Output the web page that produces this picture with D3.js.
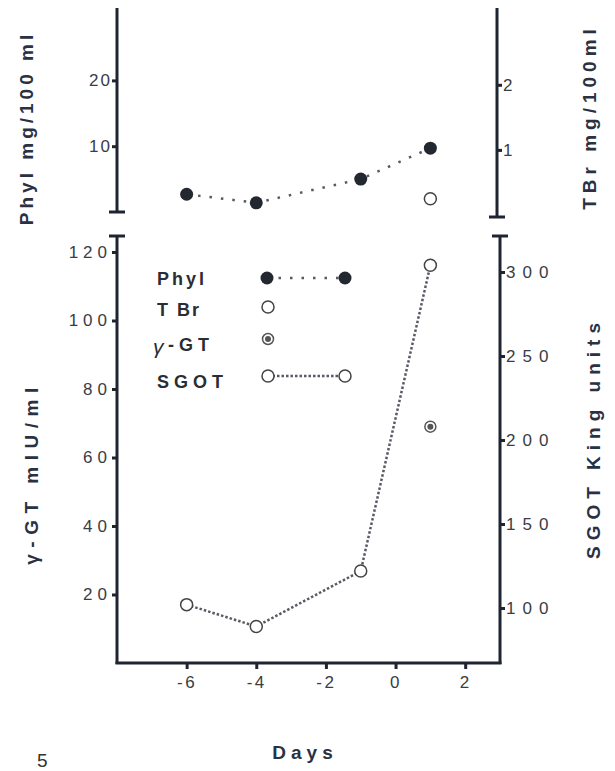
<!DOCTYPE html>
<html>
<head>
<meta charset="utf-8">
<script src="https://cdn.jsdelivr.net/npm/d3@7"></script>
<style>
  body { margin: 0; background: #fff; }
  svg { font-family: "Liberation Sans", Arial, sans-serif; }
</style>
</head>
<body>
<svg id="chart" width="615" height="771"></svg>
<script>
// days of measurement
const phylDays = [-6, -4, -1, 1];
const phylValues = [2.7, 1.4, 5.0, 9.7];
const tbrDays = [1];
const tbrValues = [0.25];
const gtDays = [1];
const gtValues = [69];
const sgotDays = [-6, -4, -1, 1];
const sgotValues = [102, 89, 122, 304];

const dayTicks = [-6, -4, -2, 0, 2];
const phylTicks = [10, 20];
const tbrTicks = [1, 2];
const gtTicks = [20, 40, 60, 80, 100, 120];
const sgotTicks = [100, 150, 200, 250, 300];

const ink = "#1e2430";
const dotInk = "#555a63";
const plain = (d) => String(d); // hyphen minus, no decimals

const svg = d3.select("#chart");

const left = 117, right = 500;
const x = d3.scaleLinear().domain([-8, 3]).range([left, right]);

// top panel
const yPhyl = d3.scaleLinear().domain([0, 31]).range([212, 8]);
const yTBr = d3.scaleLinear().domain([0, 3.18]).range([215, 8]);
// bottom panel
const yGT = d3.scaleLinear().domain([0, 120]).range([663, 252]);
const ySGOT = d3.scaleLinear().domain([100, 300]).range([608, 272]);

function styleAxis(g, spacing) {
  g.select(".domain").remove();
  g.selectAll(".tick line").attr("stroke", ink).attr("stroke-width", 3);
  g.selectAll(".tick text")
    .attr("fill", "#3a3d44")
    .style("font-size", "17px")
    .style("letter-spacing", spacing || "3px");
}

function vline(xp, y0, y1) {
  svg.append("line")
    .attr("x1", xp).attr("x2", xp).attr("y1", y0).attr("y2", y1)
    .attr("stroke", ink).attr("stroke-width", 3);
}
function cap(xp, yp) {
  svg.append("line")
    .attr("x1", xp - 8).attr("x2", xp + 8).attr("y1", yp).attr("y2", yp)
    .attr("stroke", ink).attr("stroke-width", 3);
}

// axis lines with break caps
vline(left, 8, 212); cap(left, 212);
vline(right - 3, 8, 217); cap(right - 3, 217);
vline(left, 236, 664); cap(left, 236);
vline(right, 236, 664); cap(right, 236);
svg.append("line")
  .attr("x1", left - 1.5).attr("x2", right + 1.5).attr("y1", 663).attr("y2", 663)
  .attr("stroke", ink).attr("stroke-width", 3);

svg.append("g").attr("transform", `translate(${left},0)`)
  .call(d3.axisLeft(yPhyl).tickValues(phylTicks).tickFormat(plain).tickSize(5).tickPadding(0))
  .call(styleAxis, "2px");
svg.append("g").attr("transform", `translate(${right - 3},0)`)
  .call(d3.axisRight(yTBr).tickValues(tbrTicks).tickFormat(plain).tickSize(5).tickPadding(1))
  .call(styleAxis);
svg.append("g").attr("transform", `translate(${left},0)`)
  .call(d3.axisLeft(yGT).tickValues(gtTicks).tickFormat(plain).tickSize(5).tickPadding(0))
  .call(styleAxis, "5px");
svg.append("g").attr("transform", `translate(${right},0)`)
  .call(d3.axisRight(ySGOT).tickValues(sgotTicks).tickFormat(plain).tickSize(5).tickPadding(1))
  .call(styleAxis, "7px");
svg.append("g").attr("transform", "translate(0,663)")
  .call(d3.axisBottom(x).tickValues(dayTicks).tickFormat(plain).tickSize(6).tickPadding(7))
  .call(styleAxis, "2.5px");

// axis titles
function vTitle(text, xp, yp, spacing) {
  svg.append("text")
    .attr("transform", `translate(${xp},${yp}) rotate(-90)`)
    .attr("text-anchor", "middle")
    .attr("fill", "#2a3142")
    .style("font-size", "19px")
    .style("font-weight", "bold")
    .style("letter-spacing", spacing)
    .text(text);
}
vTitle("Phyl mg/100 ml", 33, 128, "4px");
vTitle("TBr mg/100ml", 596, 117, "5px");
vTitle("\u03b3-GT mIU/ml", 38, 473, "6.5px");
vTitle("SGOT King units", 600, 438, "6px");

svg.append("text")
  .attr("x", 305).attr("y", 759)
  .attr("text-anchor", "middle")
  .attr("fill", "#2a3142")
  .style("font-size", "19px").style("font-weight", "bold")
  .style("letter-spacing", "5px")
  .text("Days");
svg.append("text")
  .attr("x", 37).attr("y", 767)
  .attr("fill", "#333")
  .style("font-size", "19px")
  .text("5");

// series
const line = (xs, ys, yScale) => d3.line()
  .x((d, i) => x(xs[i]))
  .y((d) => yScale(d))(ys);

svg.append("path")
  .attr("d", line(phylDays, phylValues, yPhyl))
  .attr("fill", "none").attr("stroke", dotInk)
  .attr("stroke-width", 2.5).attr("stroke-dasharray", "2.5,9");
svg.append("path")
  .attr("d", line(sgotDays, sgotValues, ySGOT))
  .attr("fill", "none").attr("stroke", dotInk)
  .attr("stroke-width", 2.5).attr("stroke-dasharray", "2.5,2");

function filled(cx, cy) {
  svg.append("circle").attr("cx", cx).attr("cy", cy).attr("r", 6.5).attr("fill", "#23272f");
}
function open(cx, cy) {
  svg.append("circle").attr("cx", cx).attr("cy", cy).attr("r", 6)
    .attr("fill", "#fff").attr("stroke", "#444").attr("stroke-width", 1.5);
}
function dotted(cx, cy) {
  svg.append("circle").attr("cx", cx).attr("cy", cy).attr("r", 5.5)
    .attr("fill", "#fff").attr("stroke", "#555").attr("stroke-width", 1.5);
  svg.append("circle").attr("cx", cx).attr("cy", cy).attr("r", 3).attr("fill", "#555");
}

phylDays.forEach((d, i) => filled(x(d), yPhyl(phylValues[i])));
tbrDays.forEach((d, i) => open(x(d), yTBr(tbrValues[i])));
sgotDays.forEach((d, i) => open(x(d), ySGOT(sgotValues[i])));
gtDays.forEach((d, i) => dotted(x(d), yGT(gtValues[i])));

// legend
const legend = svg.append("g");
function legendText(t, xp, yp, spacing) {
  legend.append("text").attr("x", xp).attr("y", yp)
    .attr("fill", "#2a2d33")
    .style("font-size", "18px").style("font-weight", "bold")
    .style("letter-spacing", spacing)
    .text(t);
}
legendText("Phyl", 157, 285, "3px");
legendText("T Br", 157, 316, "2px");
legend.append("text").attr("x", 153).attr("y", 354)
  .attr("fill", "#2a2d33").style("font-size", "21px")
  .style("font-style", "italic")
  .text("\u03b3");
legendText("-GT", 168, 351, "5px");
legendText("SGOT", 157, 388, "5px");

legend.append("line").attr("x1", 267).attr("x2", 345).attr("y1", 278).attr("y2", 278)
  .attr("stroke", dotInk).attr("stroke-width", 2.5).attr("stroke-dasharray", "2.5,9");
filled(267, 278); filled(345, 278);
open(268, 307);
dotted(268, 339);
legend.append("line").attr("x1", 268).attr("x2", 345).attr("y1", 376).attr("y2", 376)
  .attr("stroke", dotInk).attr("stroke-width", 2.5).attr("stroke-dasharray", "2.5,2");
open(268, 376); open(345, 376);
</script>
</body>
</html>
